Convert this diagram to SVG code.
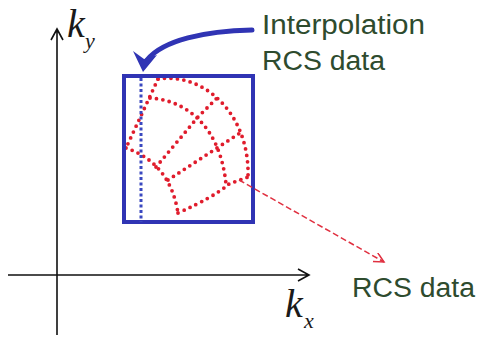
<svg xmlns="http://www.w3.org/2000/svg" width="477" height="337" viewBox="0 0 477 337">
<defs>
<style>
.axis{stroke:#111;stroke-width:1.6;fill:none}
.rdot{stroke:#e01c2c;stroke-width:3.8;fill:none;stroke-linecap:round;stroke-dasharray:0 6.5}
.bdot{stroke:#3a48c0;stroke-width:3;fill:none;stroke-dasharray:3 2.5}
.lbl{font-family:"Liberation Sans",Arial,sans-serif;font-size:27px;fill:#2e4b2e}
.kv{font-family:"Liberation Serif","Times New Roman",serif;font-style:italic;fill:#1a1a1a}
</style>
<marker id="redHead" markerWidth="14" markerHeight="14" refX="10" refY="5" orient="auto" markerUnits="userSpaceOnUse">
<path d="M0,0 L10,5 L0,10" fill="none" stroke="#e03040" stroke-width="1.5"/>
</marker>
</defs>
<rect width="477" height="337" fill="#fff"/>
<g id="axes">
<path class="axis" d="M57,335 V29 M51,40 L57,29 L63,40"/>
<path class="axis" d="M8,275 H309 M298,269 L309,275 L298,281"/>
</g>
<g id="ky-label">
<text class="kv" x="67" y="37" font-size="40">k</text>
<text class="kv" x="85" y="48" font-size="22">y</text>
</g>
<g id="kx-label">
<text class="kv" x="285" y="317" font-size="40">k</text>
<text class="kv" x="304" y="328" font-size="22">x</text>
</g>
<g id="polar-grid">
<path class="rdot" d="M158,79 L126,148"/>
<path class="rdot" d="M126,148 Q170,163 178,213"/>
<path class="rdot" d="M150,98 C185,100 220,125 226,184"/>
<path class="rdot" d="M158,79 C205,72 250,115 248,177"/>
<path class="rdot" d="M178,213 Q214,197 229,184 L248,177"/>
<path class="rdot" d="M156,167 L198,117 L218,97"/>
<path class="rdot" d="M168,180 L217,148 L243,131"/>
</g>
<g id="rect-grid">
<rect x="124" y="76" width="129" height="146" fill="none" stroke="#3034b4" stroke-width="4"/>
<path class="bdot" d="M141,78 V222"/>
</g>
<g id="interp-label">
<text class="lbl" x="262" y="34" textLength="163" lengthAdjust="spacingAndGlyphs">Interpolation</text>
<text class="lbl" x="262" y="70" textLength="123" lengthAdjust="spacingAndGlyphs">RCS  data</text>
</g>
<g id="rcs-label">
<text class="lbl" x="352" y="297" textLength="123" lengthAdjust="spacingAndGlyphs">RCS  data</text>
</g>
<g id="connectors">
<path d="M252,30 C205,31 163,40 147,60" fill="none" stroke="#3034b4" stroke-width="5" stroke-linecap="round"/>
<path d="M143,72 L133,51 L144,59 L157,55 Z" fill="#3034b4"/>
<path d="M239,180 L384,262" fill="none" stroke="#e03040" stroke-width="1.5" stroke-dasharray="6 3" marker-end="url(#redHead)"/>
</g>
</svg>
